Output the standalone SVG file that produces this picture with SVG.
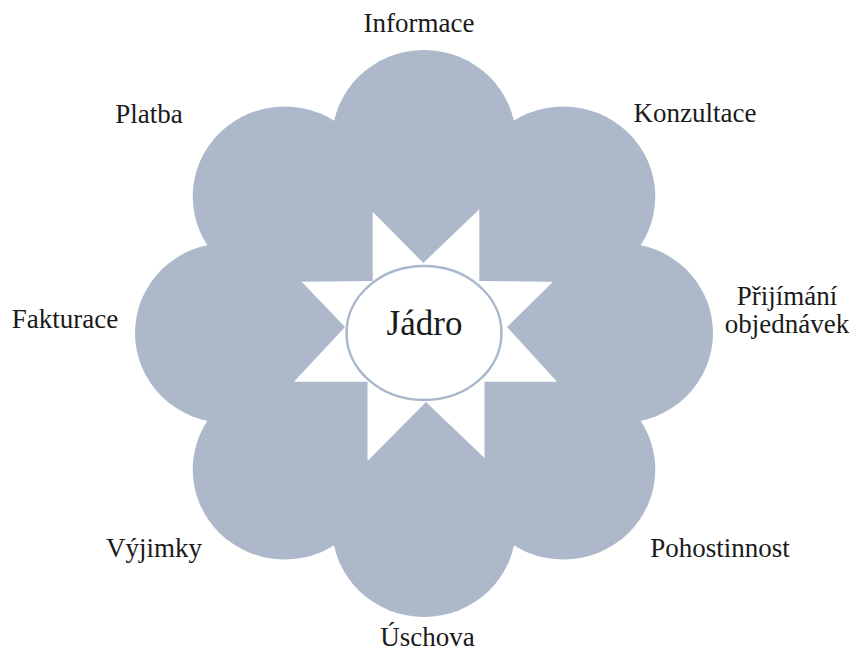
<svg xmlns="http://www.w3.org/2000/svg" width="852" height="653" viewBox="0 0 852 653">
<style>
.petal{fill:#ADB9CB;}
.lbl{font-family:"Liberation Serif","Times New Roman",serif;font-size:27px;fill:#1a1a1a;text-anchor:middle;}
.core{fill:#FFFFFF;stroke:#A9B8CC;stroke-width:2.5;}
</style>
<rect width="852" height="653" fill="#FFFFFF"/>
<g id="flower">
<circle class="petal" cx="424" cy="333" r="195"/>
<ellipse class="petal" cx="424" cy="140" rx="92" ry="90"/>
<ellipse class="petal" cx="563.3" cy="196.5" rx="92" ry="90"/>
<ellipse class="petal" cx="621" cy="333" rx="92" ry="90"/>
<ellipse class="petal" cx="563.3" cy="469.5" rx="92" ry="90"/>
<ellipse class="petal" cx="424" cy="527" rx="92" ry="90"/>
<ellipse class="petal" cx="284.7" cy="469.5" rx="92" ry="90"/>
<ellipse class="petal" cx="227" cy="333" rx="92" ry="90"/>
<ellipse class="petal" cx="284.7" cy="196.5" rx="92" ry="90"/>
</g>
<g id="star">
<polygon fill="#FFFFFF" points="372.7,211.7 372.7,281 301.7,281.7 345,327 294,381.7 367.5,381.7 367.5,461 426,402 484.5,458 484.5,381.7 557,381.7 507,327 553,281.7 479.3,281 479.3,209.3 423.3,263"/>
</g>
<g id="core">
<ellipse class="core" cx="424" cy="333" rx="77.5" ry="67"/>
<text class="lbl" x="424.5" y="335" style="font-size:35px">Jádro</text>
</g>
<g id="connectors"></g>
<g id="n-informace"><text class="lbl" x="419" y="32">Informace</text></g>
<g id="n-konzultace"><text class="lbl" x="695" y="122">Konzultace</text></g>
<g id="n-prijimani"><text class="lbl" x="787" y="305">Přijímání</text><text class="lbl" x="787" y="333">objednávek</text></g>
<g id="n-pohostinnost"><text class="lbl" x="720" y="557">Pohostinnost</text></g>
<g id="n-uschova"><text class="lbl" x="427.5" y="646">Úschova</text></g>
<g id="n-vyjimky"><text class="lbl" x="154" y="557">Výjimky</text></g>
<g id="n-fakturace"><text class="lbl" x="65" y="328">Fakturace</text></g>
<g id="n-platba"><text class="lbl" x="149" y="123">Platba</text></g>
</svg>
